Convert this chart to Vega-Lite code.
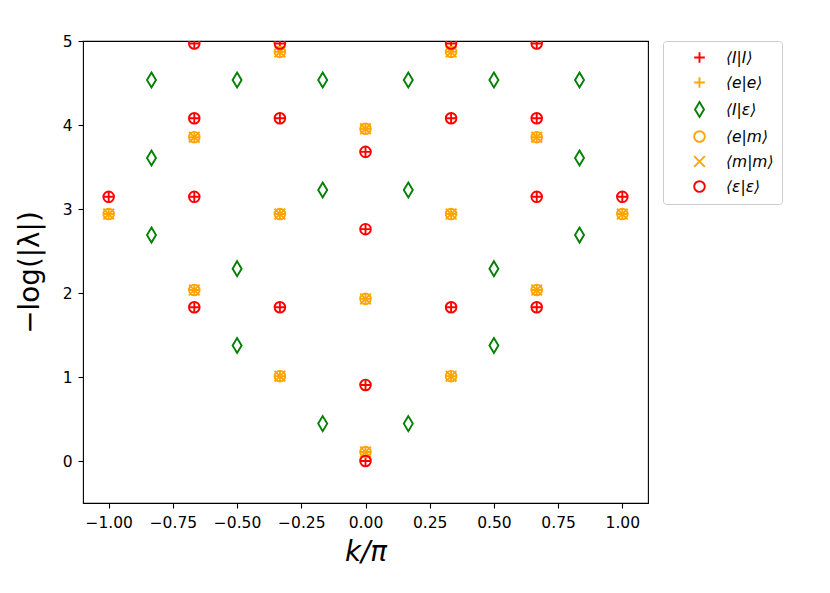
{
  "$schema": "https://vega.github.io/schema/vega-lite/v6.json",
  "autosize": {"type": "none"},
  "padding": {"left": 83, "top": 41, "right": 182, "bottom": 90},
  "width": 565,
  "height": 462,
  "background": "white",
  "config": {
    "view": {"stroke": "black", "strokeWidth": 1.1},
    "font": "DejaVu Sans"
  },
  "data": {
    "values": [
      {"s": "⟨I|I⟩", "k": 0, "y": 0},
      {"s": "⟨I|I⟩", "k": 0, "y": 0.905},
      {"s": "⟨I|I⟩", "k": 0, "y": 2.76},
      {"s": "⟨I|I⟩", "k": 0, "y": 3.68},
      {"s": "⟨I|I⟩", "k": -0.3333333, "y": 1.83},
      {"s": "⟨I|I⟩", "k": -0.3333333, "y": 4.08},
      {"s": "⟨I|I⟩", "k": -0.3333333, "y": 4.97},
      {"s": "⟨I|I⟩", "k": 0.3333333, "y": 1.83},
      {"s": "⟨I|I⟩", "k": 0.3333333, "y": 4.08},
      {"s": "⟨I|I⟩", "k": 0.3333333, "y": 4.97},
      {"s": "⟨I|I⟩", "k": -0.6666667, "y": 1.83},
      {"s": "⟨I|I⟩", "k": -0.6666667, "y": 3.145},
      {"s": "⟨I|I⟩", "k": -0.6666667, "y": 4.08},
      {"s": "⟨I|I⟩", "k": -0.6666667, "y": 4.97},
      {"s": "⟨I|I⟩", "k": 0.6666667, "y": 1.83},
      {"s": "⟨I|I⟩", "k": 0.6666667, "y": 3.145},
      {"s": "⟨I|I⟩", "k": 0.6666667, "y": 4.08},
      {"s": "⟨I|I⟩", "k": 0.6666667, "y": 4.97},
      {"s": "⟨I|I⟩", "k": -1, "y": 3.145},
      {"s": "⟨I|I⟩", "k": 1, "y": 3.145},

      {"s": "⟨e|e⟩", "k": 0, "y": 0.107},
      {"s": "⟨e|e⟩", "k": 0, "y": 1.93},
      {"s": "⟨e|e⟩", "k": 0, "y": 3.955},
      {"s": "⟨e|e⟩", "k": -0.3333333, "y": 1.01},
      {"s": "⟨e|e⟩", "k": -0.3333333, "y": 2.94},
      {"s": "⟨e|e⟩", "k": -0.3333333, "y": 4.87},
      {"s": "⟨e|e⟩", "k": 0.3333333, "y": 1.01},
      {"s": "⟨e|e⟩", "k": 0.3333333, "y": 2.94},
      {"s": "⟨e|e⟩", "k": 0.3333333, "y": 4.87},
      {"s": "⟨e|e⟩", "k": -0.6666667, "y": 2.036},
      {"s": "⟨e|e⟩", "k": -0.6666667, "y": 3.855},
      {"s": "⟨e|e⟩", "k": 0.6666667, "y": 2.036},
      {"s": "⟨e|e⟩", "k": 0.6666667, "y": 3.855},
      {"s": "⟨e|e⟩", "k": -1, "y": 2.94},
      {"s": "⟨e|e⟩", "k": 1, "y": 2.94},

      {"s": "⟨I|ε⟩", "k": -0.1666667, "y": 0.445},
      {"s": "⟨I|ε⟩", "k": -0.1666667, "y": 3.226},
      {"s": "⟨I|ε⟩", "k": -0.1666667, "y": 4.536},
      {"s": "⟨I|ε⟩", "k": 0.1666667, "y": 0.445},
      {"s": "⟨I|ε⟩", "k": 0.1666667, "y": 3.226},
      {"s": "⟨I|ε⟩", "k": 0.1666667, "y": 4.536},
      {"s": "⟨I|ε⟩", "k": -0.5, "y": 1.375},
      {"s": "⟨I|ε⟩", "k": -0.5, "y": 2.29},
      {"s": "⟨I|ε⟩", "k": -0.5, "y": 4.536},
      {"s": "⟨I|ε⟩", "k": 0.5, "y": 1.375},
      {"s": "⟨I|ε⟩", "k": 0.5, "y": 2.29},
      {"s": "⟨I|ε⟩", "k": 0.5, "y": 4.536},
      {"s": "⟨I|ε⟩", "k": -0.8333333, "y": 2.69},
      {"s": "⟨I|ε⟩", "k": -0.8333333, "y": 3.607},
      {"s": "⟨I|ε⟩", "k": -0.8333333, "y": 4.536},
      {"s": "⟨I|ε⟩", "k": 0.8333333, "y": 2.69},
      {"s": "⟨I|ε⟩", "k": 0.8333333, "y": 3.607},
      {"s": "⟨I|ε⟩", "k": 0.8333333, "y": 4.536},

      {"s": "⟨e|m⟩", "k": 0, "y": 0.107},
      {"s": "⟨e|m⟩", "k": 0, "y": 1.93},
      {"s": "⟨e|m⟩", "k": 0, "y": 3.955},
      {"s": "⟨e|m⟩", "k": -0.3333333, "y": 1.01},
      {"s": "⟨e|m⟩", "k": -0.3333333, "y": 2.94},
      {"s": "⟨e|m⟩", "k": -0.3333333, "y": 4.87},
      {"s": "⟨e|m⟩", "k": 0.3333333, "y": 1.01},
      {"s": "⟨e|m⟩", "k": 0.3333333, "y": 2.94},
      {"s": "⟨e|m⟩", "k": 0.3333333, "y": 4.87},
      {"s": "⟨e|m⟩", "k": -0.6666667, "y": 2.036},
      {"s": "⟨e|m⟩", "k": -0.6666667, "y": 3.855},
      {"s": "⟨e|m⟩", "k": 0.6666667, "y": 2.036},
      {"s": "⟨e|m⟩", "k": 0.6666667, "y": 3.855},
      {"s": "⟨e|m⟩", "k": -1, "y": 2.94},
      {"s": "⟨e|m⟩", "k": 1, "y": 2.94},

      {"s": "⟨m|m⟩", "k": 0, "y": 0.107},
      {"s": "⟨m|m⟩", "k": 0, "y": 1.93},
      {"s": "⟨m|m⟩", "k": 0, "y": 3.955},
      {"s": "⟨m|m⟩", "k": -0.3333333, "y": 1.01},
      {"s": "⟨m|m⟩", "k": -0.3333333, "y": 2.94},
      {"s": "⟨m|m⟩", "k": -0.3333333, "y": 4.87},
      {"s": "⟨m|m⟩", "k": 0.3333333, "y": 1.01},
      {"s": "⟨m|m⟩", "k": 0.3333333, "y": 2.94},
      {"s": "⟨m|m⟩", "k": 0.3333333, "y": 4.87},
      {"s": "⟨m|m⟩", "k": -0.6666667, "y": 2.036},
      {"s": "⟨m|m⟩", "k": -0.6666667, "y": 3.855},
      {"s": "⟨m|m⟩", "k": 0.6666667, "y": 2.036},
      {"s": "⟨m|m⟩", "k": 0.6666667, "y": 3.855},
      {"s": "⟨m|m⟩", "k": -1, "y": 2.94},
      {"s": "⟨m|m⟩", "k": 1, "y": 2.94},

      {"s": "⟨ε|ε⟩", "k": 0, "y": 0},
      {"s": "⟨ε|ε⟩", "k": 0, "y": 0.905},
      {"s": "⟨ε|ε⟩", "k": 0, "y": 2.76},
      {"s": "⟨ε|ε⟩", "k": 0, "y": 3.68},
      {"s": "⟨ε|ε⟩", "k": -0.3333333, "y": 1.83},
      {"s": "⟨ε|ε⟩", "k": -0.3333333, "y": 4.08},
      {"s": "⟨ε|ε⟩", "k": -0.3333333, "y": 4.97},
      {"s": "⟨ε|ε⟩", "k": 0.3333333, "y": 1.83},
      {"s": "⟨ε|ε⟩", "k": 0.3333333, "y": 4.08},
      {"s": "⟨ε|ε⟩", "k": 0.3333333, "y": 4.97},
      {"s": "⟨ε|ε⟩", "k": -0.6666667, "y": 1.83},
      {"s": "⟨ε|ε⟩", "k": -0.6666667, "y": 3.145},
      {"s": "⟨ε|ε⟩", "k": -0.6666667, "y": 4.08},
      {"s": "⟨ε|ε⟩", "k": -0.6666667, "y": 4.97},
      {"s": "⟨ε|ε⟩", "k": 0.6666667, "y": 1.83},
      {"s": "⟨ε|ε⟩", "k": 0.6666667, "y": 3.145},
      {"s": "⟨ε|ε⟩", "k": 0.6666667, "y": 4.08},
      {"s": "⟨ε|ε⟩", "k": 0.6666667, "y": 4.97},
      {"s": "⟨ε|ε⟩", "k": -1, "y": 3.145},
      {"s": "⟨ε|ε⟩", "k": 1, "y": 3.145}
    ]
  },
  "mark": {"type": "point", "filled": false, "opacity": 1, "strokeWidth": 1.9, "size": 225, "clip": true},
  "encoding": {
    "x": {
      "field": "k", "type": "quantitative",
      "scale": {"domain": [-1.1, 1.1], "nice": false, "zero": false},
      "axis": {
        "values": [-1, -0.75, -0.5, -0.25, 0, 0.25, 0.5, 0.75, 1],
        "labelExpr": "replace(format(datum.value, '.2f'), '-', '−')",
        "grid": false, "domain": false, "labelFlush": false,
        "tickColor": "black", "tickSize": 5, "tickWidth": 1.1,
        "labelFont": "DejaVu Sans", "labelFontSize": 15.5, "labelColor": "black", "labelPadding": 7,
        "title": "k/π", "titleFont": "DejaVu Sans", "titleFontSize": 27.8, "titleFontStyle": "italic",
        "titleFontWeight": "normal", "titleColor": "black", "titlePadding": 8
      }
    },
    "y": {
      "field": "y", "type": "quantitative",
      "scale": {"domain": [-0.5, 5], "nice": false, "zero": false},
      "axis": {
        "values": [0, 1, 2, 3, 4, 5],
        "grid": false, "domain": false, "labelFlush": false,
        "tickColor": "black", "tickSize": 5, "tickWidth": 1.1,
        "labelFont": "DejaVu Sans", "labelFontSize": 15.5, "labelColor": "black", "labelPadding": 6,
        "title": "−log(|λ|)", "titleFont": "DejaVu Sans", "titleFontSize": 27.8,
        "titleFontWeight": "normal", "titleColor": "black", "titlePadding": 18
      }
    },
    "color": {
      "field": "s", "type": "nominal",
      "scale": {
        "domain": ["⟨I|I⟩", "⟨e|e⟩", "⟨I|ε⟩", "⟨e|m⟩", "⟨m|m⟩", "⟨ε|ε⟩"],
        "range": ["#ff0000", "#ffa500", "#008000", "#ffa500", "#ffa500", "#ff0000"]
      },
      "legend": {
        "title": null, "orient": "none", "legendX": 580, "legendY": 0,
        "padding": 8, "rowPadding": 6, "symbolOffset": 20, "labelOffset": 18,
        "symbolSize": 225, "symbolStrokeWidth": 1.9, "symbolFillColor": "transparent",
        "labelFont": "DejaVu Sans", "labelFontSize": 15.5, "labelFontStyle": "italic", "labelColor": "black",
        "strokeColor": "#cccccc", "fillColor": "white", "cornerRadius": 3
      }
    },
    "shape": {
      "field": "s", "type": "nominal",
      "scale": {
        "domain": ["⟨I|I⟩", "⟨e|e⟩", "⟨I|ε⟩", "⟨e|m⟩", "⟨m|m⟩", "⟨ε|ε⟩"],
        "range": [
          "M-0.71,0L0.71,0M0,-0.71L0,0.71",
          "M-0.71,0L0.71,0M0,-0.71L0,0.71",
          "M0,-1L0.6,0L0,1L-0.6,0Z",
          "M0.71,0A0.71,0.71,0,1,1,-0.71,0A0.71,0.71,0,1,1,0.71,0Z",
          "M-0.71,-0.71L0.71,0.71M0.71,-0.71L-0.71,0.71",
          "M0.71,0A0.71,0.71,0,1,1,-0.71,0A0.71,0.71,0,1,1,0.71,0Z"
        ]
      }
    }
  }
}
